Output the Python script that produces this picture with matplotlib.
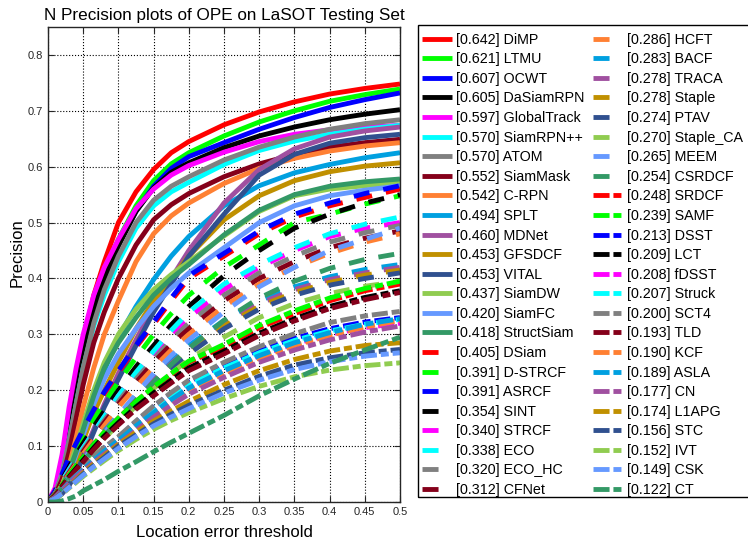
import numpy as np
import matplotlib
matplotlib.use('Agg')
import matplotlib.pyplot as plt
from matplotlib.lines import Line2D
from matplotlib.patches import Rectangle

plt.rcParams['font.family'] = ['Liberation Sans', 'DejaVu Sans']

thresholds = [0, 0.01, 0.02, 0.03, 0.04, 0.05, 0.065, 0.08, 0.1, 0.125, 0.15, 0.175,
              0.2, 0.25, 0.3, 0.35, 0.4, 0.45, 0.5]

names = ['DiMP', 'LTMU', 'OCWT', 'DaSiamRPN', 'GlobalTrack', 'SiamRPN++', 'ATOM', 'SiamMask',
         'C-RPN', 'SPLT', 'MDNet', 'GFSDCF', 'VITAL', 'SiamDW', 'SiamFC', 'StructSiam',
         'DSiam', 'D-STRCF', 'ASRCF', 'SINT', 'STRCF', 'ECO', 'ECO_HC', 'CFNet',
         'HCFT', 'BACF', 'TRACA', 'Staple', 'PTAV', 'Staple_CA', 'MEEM', 'CSRDCF',
         'SRDCF', 'SAMF', 'DSST', 'LCT', 'fDSST', 'Struck', 'SCT4', 'TLD',
         'KCF', 'ASLA', 'CN', 'L1APG', 'STC', 'IVT', 'CSK', 'CT']

scores = [0.642, 0.621, 0.607, 0.605, 0.597, 0.570, 0.570, 0.552,
          0.542, 0.494, 0.460, 0.453, 0.453, 0.437, 0.420, 0.418,
          0.405, 0.391, 0.391, 0.354, 0.340, 0.338, 0.320, 0.312,
          0.286, 0.283, 0.278, 0.278, 0.274, 0.270, 0.265, 0.254,
          0.248, 0.239, 0.213, 0.209, 0.208, 0.207, 0.200, 0.193,
          0.190, 0.189, 0.177, 0.174, 0.156, 0.152, 0.149, 0.122]

# normalized precision at each threshold
precision = [
    [0, .02, .07, .14, .22, .29, .37, .43, .50, .555, .595, .625, .645, .675, .698, .716, .730, .740, .748],  # DiMP
    [0, .02, .065, .13, .20, .27, .35, .41, .47, .53, .575, .605, .625, .655, .680, .700, .717, .729, .739],  # LTMU
    [0, .02, .06, .125, .195, .26, .34, .40, .46, .52, .565, .597, .618, .643, .667, .688, .706, .720, .732],  # OCWT
    [0, .02, .065, .13, .20, .27, .345, .40, .458, .52, .562, .59, .607, .634, .655, .671, .684, .694, .702],  # DaSiamRPN
    [0, .025, .085, .17, .24, .30, .37, .42, .47, .525, .56, .585, .602, .626, .645, .658, .666, .671, .674],  # GlobalTrack
    [0, .015, .05, .11, .175, .24, .315, .37, .43, .49, .53, .555, .572, .604, .629, .646, .658, .667, .674],  # SiamRPN++
    [0, .015, .05, .11, .175, .24, .32, .38, .44, .50, .54, .565, .582, .612, .635, .653, .667, .677, .684],  # ATOM
    [0, .012, .04, .09, .15, .21, .285, .34, .40, .46, .505, .532, .552, .582, .605, .622, .635, .643, .649],  # SiamMask
    [0, .01, .03, .065, .115, .17, .24, .30, .36, .43, .48, .512, .535, .570, .597, .615, .628, .637, .643],  # C-RPN
    [0, .008, .022, .045, .08, .12, .18, .235, .295, .35, .398, .44, .475, .53, .566, .589, .604, .616, .625],  # SPLT
    [0, .005, .015, .03, .055, .085, .13, .175, .23, .29, .35, .40, .45, .535, .595, .632, .653, .664, .671],  # MDNet
    [0, .007, .02, .04, .07, .11, .16, .20, .25, .31, .36, .40, .44, .505, .548, .575, .591, .601, .607],  # GFSDCF
    [0, .005, .015, .03, .052, .08, .125, .17, .22, .28, .34, .39, .44, .515, .585, .622, .642, .652, .658],  # VITAL
    [0, .01, .03, .06, .10, .14, .20, .25, .30, .345, .38, .407, .43, .476, .52, .548, .56, .566, .572],  # SiamDW
    [0, .008, .025, .05, .085, .12, .175, .22, .265, .31, .35, .382, .41, .455, .50, .53, .548, .558, .566],  # SiamFC
    [0, .009, .027, .055, .09, .13, .19, .24, .285, .33, .37, .40, .425, .478, .522, .55, .565, .573, .578],  # StructSiam
    [0, .02, .048, .077, .102, .127, .162, .194, .232, .277, .318, .36, .40, .44, .48, .51, .53, .545, .56],  # DSiam
    [0, .018, .044, .07, .093, .115, .148, .178, .215, .258, .30, .337, .37, .42, .46, .50, .515, .533, .548],  # D-STRCF
    [0, .02, .05, .08, .105, .13, .165, .197, .235, .28, .322, .365, .405, .445, .485, .515, .535, .552, .566],  # ASRCF
    [0, .016, .04, .063, .085, .105, .135, .163, .20, .242, .28, .317, .35, .405, .45, .49, .515, .535, .55],  # SINT
    [0, .015, .037, .058, .078, .097, .125, .152, .19, .23, .265, .30, .33, .38, .42, .45, .475, .49, .50],  # STRCF
    [0, .015, .037, .058, .078, .097, .125, .153, .19, .232, .27, .307, .34, .39, .425, .455, .48, .497, .51],  # ECO
    [0, .014, .034, .054, .074, .093, .12, .146, .18, .22, .255, .29, .32, .37, .41, .44, .465, .482, .495],  # ECO_HC
    [0, .014, .033, .052, .071, .09, .117, .142, .175, .214, .25, .282, .31, .36, .40, .43, .455, .472, .485],  # CFNet
    [0, .013, .031, .05, .068, .086, .112, .137, .17, .206, .24, .272, .30, .35, .39, .42, .445, .465, .48],  # HCFT
    [0, .012, .03, .047, .063, .08, .104, .127, .155, .19, .222, .252, .28, .325, .36, .385, .403, .416, .425],  # BACF
    [0, .012, .03, .047, .063, .08, .103, .125, .152, .186, .218, .248, .275, .32, .355, .38, .398, .41, .42],  # TRACA
    [0, .011, .028, .044, .06, .075, .098, .12, .147, .18, .213, .242, .27, .315, .35, .375, .393, .406, .415],  # Staple
    [0, .011, .028, .044, .06, .075, .098, .12, .146, .178, .21, .238, .265, .31, .345, .37, .388, .40, .41],  # PTAV
    [0, .011, .026, .041, .056, .07, .092, .113, .14, .172, .203, .23, .255, .295, .33, .355, .373, .386, .395],  # Staple_CA
    [0, .011, .028, .045, .06, .075, .1, .123, .155, .193, .23, .262, .29, .34, .385, .42, .45, .47, .49],  # MEEM
    [0, .011, .027, .043, .058, .072, .095, .118, .147, .182, .215, .246, .275, .325, .365, .395, .418, .434, .445],  # CSRDCF
    [0, .012, .03, .048, .065, .08, .103, .125, .15, .18, .205, .228, .25, .278, .312, .337, .36, .378, .39],  # SRDCF
    [0, .012, .03, .048, .065, .08, .103, .125, .15, .18, .206, .23, .252, .282, .316, .342, .365, .382, .395],  # SAMF
    [0, .009, .023, .037, .05, .062, .08, .097, .115, .143, .17, .193, .215, .245, .272, .293, .31, .322, .33],  # DSST
    [0, .011, .028, .045, .06, .075, .097, .118, .142, .17, .195, .218, .24, .27, .302, .328, .35, .366, .378],  # LCT
    [0, .009, .022, .036, .048, .06, .077, .093, .11, .137, .162, .185, .205, .235, .262, .283, .30, .312, .32],  # fDSST
    [0, .009, .023, .037, .05, .062, .079, .095, .113, .14, .166, .189, .21, .24, .267, .289, .306, .318, .327],  # Struck
    [0, .009, .023, .038, .051, .063, .081, .098, .117, .145, .172, .196, .218, .25, .278, .301, .321, .333, .341],  # SCT4
    [0, .011, .027, .043, .058, .072, .094, .114, .138, .166, .19, .213, .235, .265, .298, .324, .346, .362, .375],  # TLD
    [0, .008, .021, .035, .047, .058, .075, .09, .108, .134, .158, .18, .20, .23, .258, .28, .298, .313, .325],  # KCF
    [0, .008, .021, .035, .047, .058, .075, .091, .11, .136, .16, .183, .204, .235, .262, .285, .303, .318, .328],  # ASLA
    [0, .008, .02, .033, .045, .055, .071, .086, .104, .128, .152, .173, .193, .223, .25, .272, .29, .304, .315],  # CN
    [0, .006, .016, .028, .04, .052, .068, .083, .103, .125, .145, .163, .18, .21, .235, .255, .27, .28, .285],  # L1APG
    [0, .006, .016, .027, .038, .05, .065, .08, .10, .12, .14, .157, .173, .20, .225, .245, .258, .267, .273],  # STC
    [0, .005, .014, .025, .035, .046, .06, .074, .092, .112, .13, .146, .16, .185, .207, .224, .236, .244, .249],  # IVT
    [0, .006, .015, .026, .037, .048, .063, .077, .096, .117, .136, .152, .167, .195, .218, .237, .251, .261, .267],  # CSK
    [0, 0, .002, .006, .011, .02, .03, .04, .055, .072, .09, .107, .123, .155, .19, .22, .248, .272, .295],  # CT
]

colors = ['#ff0000', '#00ff00', '#0000ff', '#000000', '#ff00ff', '#00ffff', '#808080', '#85001a',
          '#ff8033', '#00a0e0', '#a050a0', '#c09000', '#30508f', '#90cc50', '#6699ff', '#339966']

fig = plt.figure(figsize=(7.48, 5.44), dpi=100)
ax = fig.add_axes([48 / 748, 1 - 502 / 544, 352 / 748, 475 / 544])

lw = 3.5
# solid, dashed, dash-dot (dash lengths in line widths)
styles = ['-', (0, (3.3, 2.9)), (0, (3.3, 0.8, 1.65, 0.8))]
handles = []
for i, name in enumerate(names):
    group = i // 16
    c = colors[i % 16]
    ax.plot(thresholds, precision[i], color=c, lw=lw, linestyle=styles[group],
            solid_capstyle='butt', dash_capstyle='butt', solid_joinstyle='round')
    handles.append(Line2D([], [], color=c, lw=lw, linestyle=styles[group],
                          solid_capstyle='butt', dash_capstyle='butt'))

labels = ['[%.3f] %s' % (s, n) for s, n in zip(scores, names)]

ax.set_xlim(0, 0.5)
ax.set_ylim(0, 0.85)
xt = np.arange(0, 0.51, 0.05)
ax.set_xticks(xt)
ax.set_xticklabels(['0'] + ['%g' % round(v, 2) for v in xt[1:]])
yt = np.arange(0, 0.81, 0.1)
ax.set_yticks(yt)
ax.set_yticklabels(['0'] + ['%g' % round(v, 1) for v in yt[1:]])
ax.tick_params(direction='in', top=True, right=True, labelsize=8, colors='#262626',
               length=4, width=0.8)
ax.grid(True, linestyle=':', color='black', lw=0.8)
for sp in ax.spines.values():
    sp.set_linewidth(1.0)
    sp.set_color('#262626')

ax.set_title('N Precision plots of OPE on LaSOT Testing Set', fontsize=12.3, pad=5)
ax.set_xlabel('Location error threshold', fontsize=12, labelpad=6)
ax.set_ylabel('Precision', fontsize=12)
ax.yaxis.set_label_coords(-0.066, 0.524)

leg = fig.legend(handles, labels, loc='upper left', bbox_to_anchor=(416 / 748, 1 - 27 / 544),
                 ncol=2, fontsize=10.3, handlelength=2.15, handletextpad=0.28,
                 columnspacing=0.55, labelspacing=0.39, borderpad=0.4,
                 borderaxespad=0, frameon=False)
fig.patches.append(Rectangle((418 / 748, 1 - 497 / 544), 0.5, 472 / 544,
                             transform=fig.transFigure, fill=False,
                             edgecolor='black', lw=1.0, zorder=0))

fig.savefig('out.png', dpi=100)
